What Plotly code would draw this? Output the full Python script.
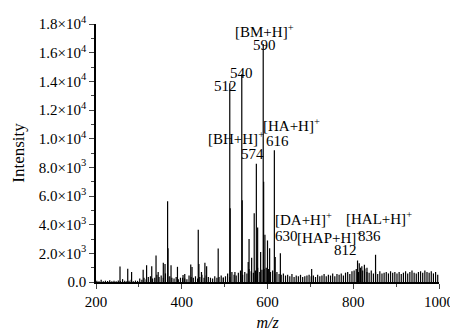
import plotly.graph_objects as go

# Major / prominent peaks (m/z, intensity)
major_mz = [256, 274, 283, 310, 318, 330, 340, 345, 357, 361, 367, 368, 375, 390, 403, 407,
            421, 424, 438.5, 440, 446, 454, 458, 485, 497,
            512, 513, 524, 540, 541, 555, 557, 563, 569, 574, 577, 584, 590, 591, 594,
            600, 605, 616, 618, 630, 703, 810, 814, 820, 826, 832, 852]
major_int = [1080, 930, 700, 860, 1170, 1100, 1850, 700, 1340, 1250, 5640, 2350, 1170, 1060, 480, 560,
             1220, 1050, 3650, 1250, 700, 1350, 1100, 2330, 320,
             13870, 5150, 700, 14500, 5700, 1400, 3000, 1700, 4800, 8250, 3800, 2100, 16600, 7000, 3300,
             2900, 2350, 9200, 1750, 2000, 900, 1500, 1300, 1100, 1200, 1000, 1900]

# Small background peaks (m/z, intensity)
minor_mz = [202, 207, 212, 217, 222, 227, 232, 237, 242, 247, 252, 257, 262, 267, 272, 277, 282, 287, 292, 297,
            302, 307, 312, 317, 322, 327, 332, 337, 342, 347, 352, 357, 362, 367, 372, 377, 382, 387, 392, 397,
            402, 407, 412, 417, 422, 427, 432, 437, 442, 447, 452, 457, 462, 467, 472, 477, 482, 487, 492, 497,
            502, 507, 512, 517, 522, 527, 532, 537, 542, 547, 552, 557, 562, 567, 572, 577, 582, 587, 592, 597,
            602, 607, 612, 617, 622, 627, 632, 637, 642, 647, 652, 657, 662, 667, 672, 677, 682, 687, 692, 697,
            702, 707, 712, 717, 722, 727, 732, 737, 742, 747, 752, 757, 762, 767, 772, 777, 782, 787, 792, 797,
            802, 807, 812, 817, 822, 827, 832, 837, 842, 847, 852, 857, 862, 867, 872, 877, 882, 887, 892, 897,
            902, 907, 912, 917, 922, 927, 932, 937, 942, 947, 952, 957, 962, 967, 972, 977, 982, 987, 992, 997]
minor_int = [80, 60, 150, 60, 90, 70, 120, 50, 80, 60, 100, 70, 200, 90, 60, 80, 150, 60, 100, 80,
             250, 150, 300, 200, 350, 400, 250, 300, 500, 350, 450, 300, 600, 350, 400, 300, 250, 350, 200, 300,
             300, 250, 200, 450, 350, 300, 400, 250, 350, 500, 300, 450, 350, 300, 250, 400, 300, 350, 450, 300,
             400, 600, 350, 700, 500, 450, 650, 800, 500, 700, 600, 900, 750, 650, 800, 1000, 700, 850, 900, 1000,
             900, 700, 800, 600, 700, 550, 500, 600, 450, 500, 400, 550, 350, 450, 400, 500, 350, 400, 450, 500,
             400, 450, 350, 500, 400, 450, 550, 400, 500, 450, 600, 400, 550, 500, 600, 450, 650, 700, 550, 750,
             800, 900, 700, 1000, 800, 950, 700, 650, 800, 600, 700, 550, 750, 600, 650, 700, 600, 750, 650, 700,
             600, 700, 550, 650, 750, 600, 700, 800, 650, 600, 700, 750, 650, 800, 700, 650, 750, 600, 700, 500]

# Peak labels: (text, m/z position, intensity position)
label_text = ["[BM+H]<sup>+</sup>", "590", "512", "540", "[BH+H]<sup>+</sup>", "574",
              "[HA+H]<sup>+</sup>", "616", "[DA+H]<sup>+</sup>", "630",
              "[HAP+H]<sup>+</sup>", "812", "[HAL+H]<sup>+</sup>", "836"]
label_x = [594, 594, 501, 539, 527, 564, 656, 624, 685, 645, 745, 783, 861, 839]
label_y = [18300, 17250, 14340, 15270, 10050, 8930, 10960, 9860, 3620, 2500, 2400, 1520, 3730, 2500]

Y_MAX = 18000
y_tickvals = [0, 2000, 4000, 6000, 8000, 10000, 12000, 14000, 16000, 18000]
y_ticktext = ["0.0", "2.0×10<sup>3</sup>", "4.0×10<sup>3</sup>", "6.0×10<sup>3</sup>",
              "8.0×10<sup>3</sup>", "1.0×10<sup>4</sup>", "1.2×10<sup>4</sup>",
              "1.4×10<sup>4</sup>", "1.6×10<sup>4</sup>", "1.8×10<sup>4</sup>"]
x_tickvals = [200, 400, 600, 800, 1000]

# Build stick spectrum
all_mz = minor_mz + major_mz
all_int = minor_int + major_int
xs, ys = [], []
for m, v in zip(all_mz, all_int):
    xs += [m, m, None]
    ys += [0, v, None]

fig = go.Figure()
fig.add_trace(go.Scatter(x=xs, y=ys, mode="lines",
                         line=dict(color="black", width=1.2),
                         hoverinfo="skip", showlegend=False))

FONT = "Liberation Serif"
for t, x, y in zip(label_text, label_x, label_y):
    fig.add_annotation(x=x, y=y / Y_MAX, xref="x", yref="paper", text=t, showarrow=False,
                       font=dict(family=FONT, size=15, color="black"))

fig.update_layout(
    width=450, height=323,
    margin=dict(l=88, r=19, t=16, b=49, autoexpand=False),
    plot_bgcolor="white", paper_bgcolor="white",
    font=dict(family=FONT, size=14, color="black"),
    xaxis=dict(range=[200, 1000], tickvals=x_tickvals, ticks="outside", ticklen=5,
               tickwidth=1.3, showline=True, linecolor="black", linewidth=1.5,
               showgrid=False, zeroline=False, automargin=False,
               minor=dict(ticks="outside", ticklen=3, tickwidth=1.2, dtick=100, tick0=200),
               tickfont=dict(family=FONT, size=15),
               title=dict(text="<i>m/z</i>", font=dict(family=FONT, size=16), standoff=10)),
    yaxis=dict(range=[0, Y_MAX], tickvals=y_tickvals, ticktext=y_ticktext, ticks="outside",
               ticklen=5, tickwidth=1.3, showline=True, linecolor="black", linewidth=1.5,
               showgrid=False, zeroline=False, automargin=False,
               minor=dict(ticks="outside", ticklen=3, tickwidth=1.2, dtick=1000, tick0=0),
               tickfont=dict(family=FONT, size=15),
               title=dict(text="Intensity", font=dict(family=FONT, size=17), standoff=10)),
)

fig.write_html("out.html")
